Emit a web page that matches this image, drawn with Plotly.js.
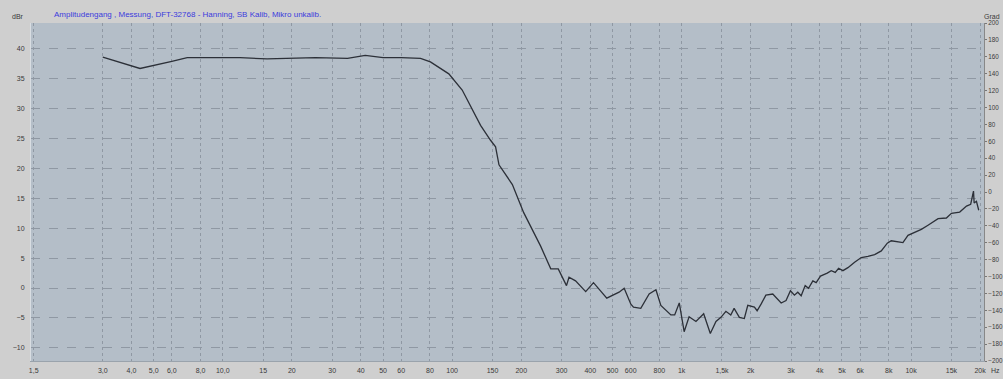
<!DOCTYPE html>
<html><head><meta charset="utf-8">
<script src="https://cdn.plot.ly/plotly-3.0.1.min.js"></script>
<style>html,body{margin:0;padding:0;background:#cfcfcf;}#c{width:1003px;height:379px;}</style>
</head><body><div id="c"></div>
<script>
const freqHz = [3.0,4.36,6.0,7.0,11.9,15.6,25.4,35,41.8,50,60,72.8,80.4,96.7,110.6,122,133,147,154.6,160,183,205,235,243,269,290,315,323,345,382,413,472,534,562,601,617,664,722,773,812,898,933,977,1026,1078,1155,1248,1334,1412,1484,1560,1638,1694,1786,1877,1943,2077,2134,2220,2330,2497,2716,2853,2981,3103,3209,3320,3457,3575,3733,3860,4031,4312,4490,4674,4834,5048,5309,5676,6070,6490,6940,7420,7880,8200,8770,9220,9700,10360,11090,11860,13120,14260,15000,16300,17450,18200,18460,18720,18840,19280,19730];
const levelDb = [38.6,36.7,37.9,38.5,38.5,38.3,38.5,38.4,38.9,38.5,38.5,38.4,37.8,35.8,33.1,30.0,27.2,24.7,23.6,20.6,17.3,12.6,8.1,7.0,3.2,3.2,0.4,1.8,1.2,-0.6,0.9,-1.7,-0.7,-0.05,-2.7,-3.2,-3.4,-1.0,-0.3,-2.9,-4.5,-4.5,-2.5,-7.3,-4.8,-5.6,-4.3,-7.6,-5.6,-4.9,-3.9,-4.5,-3.4,-4.9,-5.1,-2.9,-3.2,-3.8,-2.7,-1.2,-1.0,-2.5,-2.1,-0.45,-1.2,-0.7,-1.3,0.4,-0.05,1.2,0.9,2.0,2.5,2.9,2.6,3.3,2.9,3.4,4.3,5.1,5.3,5.6,6.2,7.5,7.9,7.7,7.6,8.8,9.3,9.8,10.5,11.6,11.7,12.5,12.7,13.7,14.0,15.3,16.2,14.2,14.5,13.0];
const xTickVals = [1.5,3,4,5,6,8,10,15,20,30,40,50,60,80,100,150,200,300,400,500,600,800,1000,1500,2000,3000,4000,5000,6000,8000,10000,15000,20000];
const xTickText = ["1,5","3,0","4,0","5,0","6,0","8,0","10,0","15","20","30","40","50","60","80","100","150","200","300","400","500","600","800","1k","1,5k","2k","3k","4k","5k","6k","8k","10k","15k","20k"];
const yTickVals = [-10,-5,0,5,10,15,20,25,30,35,40];
const y2TickVals = [-200,-180,-160,-140,-120,-100,-80,-60,-40,-20,0,20,40,60,80,100,120,140,160,180,200];
const titleText = "Amplitudengang , Messung, DFT-32768 - Hanning, SB Kalib, Mikro unkalib.";

const FF = "Liberation Sans, Arial, sans-serif";
const tickFont = {family:FF, size:7, color:"#3a3a3a"};
const plotW = 1003 - 31 - 19;
const data = [
  {x:freqHz, y:levelDb, type:"scatter", mode:"lines", line:{color:"#2c3038", width:1.3}, hoverinfo:"skip"},
  {x:[], y:[], type:"scatter", mode:"lines", yaxis:"y2", hoverinfo:"skip"}
];
const layout = {
  width:1003, height:379,
  margin:{l:31, r:19, t:23, b:18, pad:0},
  paper_bgcolor:"#cfcfcf", plot_bgcolor:"#b4bec8",
  showlegend:false,
  xaxis:{type:"log", range:[Math.log10(1.46), Math.log10(20800)], tickvals:xTickVals, ticktext:xTickText,
    tickfont:tickFont, ticks:"", showgrid:true, gridcolor:"#8f98a3", griddash:"dot", gridwidth:1,
    zeroline:false, showline:true, linecolor:"#9aa3ac", ticklabelstandoff:3},
  yaxis:{range:[-12.2,44.3], tickvals:yTickVals, tickfont:tickFont, ticks:"", showgrid:true,
    gridcolor:"#8f98a3", griddash:"dash", gridwidth:1, zeroline:false, showline:true, linecolor:"#d8dde2", ticklabelstandoff:4},
  yaxis2:{overlaying:"y", side:"right", range:[-200,200], tickvals:y2TickVals, tickfont:{family:FF, size:6.3, color:"#3a3a3a"},
    showgrid:false, zeroline:false, ticks:"outside", ticklen:2, tickcolor:"#777", showline:true, linecolor:"#888", ticklabelstandoff:0},
  annotations:[
    {text:titleText, xref:"paper", yref:"paper", x:(52-31)/plotW, y:1, yshift:9, xanchor:"left", yanchor:"middle", showarrow:false,
     font:{family:FF, size:8, color:"#3b3bdd"}},
    {text:"dBr", xref:"paper", yref:"paper", x:(26-31)/plotW, y:1, yshift:7, xanchor:"right", yanchor:"middle", showarrow:false,
     font:{family:FF, size:7, color:"#3a3a3a"}},
    {text:"Grad", xref:"paper", yref:"paper", x:(1002-31)/plotW, y:1, yshift:7, xanchor:"right", yanchor:"middle", showarrow:false,
     font:{family:FF, size:7, color:"#3a3a3a"}},
    {text:"Hz", xref:"paper", yref:"paper", x:(1002-31)/plotW, y:0, yshift:-9, xanchor:"right", yanchor:"middle", showarrow:false,
     font:{family:FF, size:7, color:"#3a3a3a"}}
  ]
};
Plotly.newPlot("c", data, layout, {staticPlot:true, displayModeBar:false});
</script>
</body></html>
